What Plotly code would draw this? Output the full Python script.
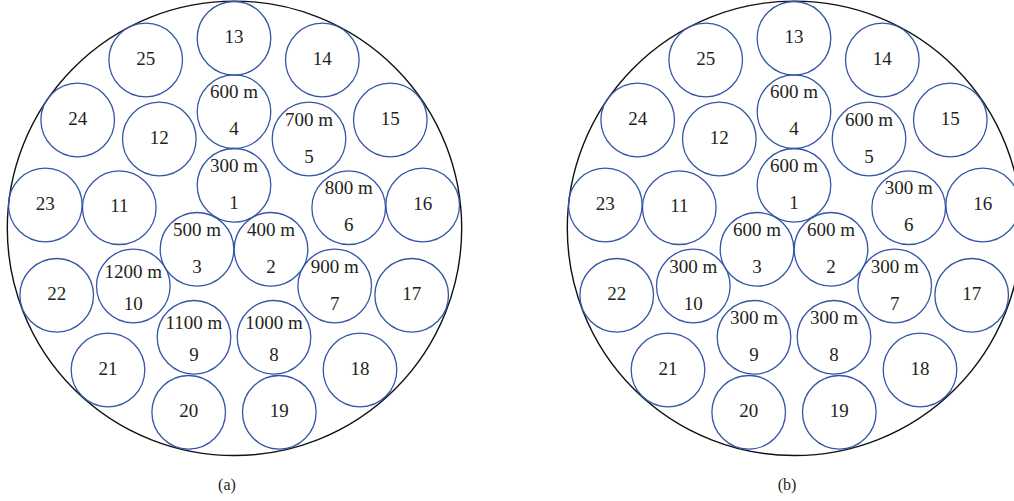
import plotly.graph_objects as go

# Cable cross-section: 25 sub-conductors inside an outer sheath, two layouts.
conductor_ids = list(range(1, 26))
conductor_x = [234.0, 271.0, 197.0, 234.0, 309.0, 348.7, 334.7, 274.0, 194.0, 133.3,
               119.3, 159.3, 234.0, 322.3, 390.3, 422.7, 411.7, 360.0, 279.3, 188.7,
               108.0, 56.7, 45.3, 77.7, 145.7]
conductor_y = [185.3, 249.3, 249.3, 111.7, 139.0, 207.7, 286.0, 337.3, 337.3, 286.0,
               207.7, 139.0, 38.3, 60.0, 120.0, 205.0, 295.3, 370.0, 412.3, 412.3,
               370.0, 295.3, 205.0, 120.0, 60.0]
conductor_r = 36.8

sheath_cx, sheath_cy, sheath_r = 234.5, 228.3, 227.2

# Lengths (m) of conductors 1-10 in each layout
lengths_a = [300, 400, 500, 600, 700, 800, 900, 1000, 1100, 1200]
lengths_b = [600, 600, 600, 600, 600, 300, 300, 300, 300, 300]

panel_names = ["(a)", "(b)"]
panel_offsets = [0.0, 560.0]
caption_x, caption_y = 227.0, 486.0

W, H = 1014, 501
line_blue = "#3556a8"
ink = "#231f20"
font_family = "Liberation Serif, Times New Roman, serif"

fig = go.Figure()
shapes = []

for name, dx, lengths in zip(panel_names, panel_offsets, [lengths_a, lengths_b]):
    shapes.append(dict(type="circle", xref="x", yref="y",
                       x0=sheath_cx - sheath_r + dx, x1=sheath_cx + sheath_r + dx,
                       y0=sheath_cy - sheath_r, y1=sheath_cy + sheath_r,
                       line=dict(color="#111111", width=1.4), layer="below"))
    tx, ty, tt = [], [], []
    for i, (cid, cx, cy) in enumerate(zip(conductor_ids, conductor_x, conductor_y)):
        x = cx + dx
        shapes.append(dict(type="circle", xref="x", yref="y",
                           x0=x - conductor_r, x1=x + conductor_r,
                           y0=cy - conductor_r, y1=cy + conductor_r,
                           line=dict(color=line_blue, width=1.3)))
        if i < len(lengths):
            label = f"{lengths[i]} m"
            up = 13.0 if lengths[i] >= 1000 else 18.0
            tx += [x, x]
            ty += [cy - up, cy + 19.0]
            tt += [label, str(cid)]
        else:
            tx.append(x)
            ty.append(cy)
            tt.append(str(cid))
    fig.add_trace(go.Scatter(x=tx, y=ty, text=tt, mode="text",
                             textfont=dict(family=font_family, size=19, color=ink),
                             hoverinfo="skip", showlegend=False))
    fig.add_trace(go.Scatter(x=[caption_x + dx], y=[caption_y], text=[name], mode="text",
                             textfont=dict(family=font_family, size=16, color=ink),
                             hoverinfo="skip", showlegend=False))

fig.update_layout(
    width=W, height=H,
    margin=dict(l=0, r=0, t=0, b=0),
    paper_bgcolor="white", plot_bgcolor="white",
    shapes=shapes,
    xaxis=dict(range=[0, W], visible=False, fixedrange=True),
    yaxis=dict(range=[H, 0], visible=False, fixedrange=True),
)

fig.write_html("out.html")
